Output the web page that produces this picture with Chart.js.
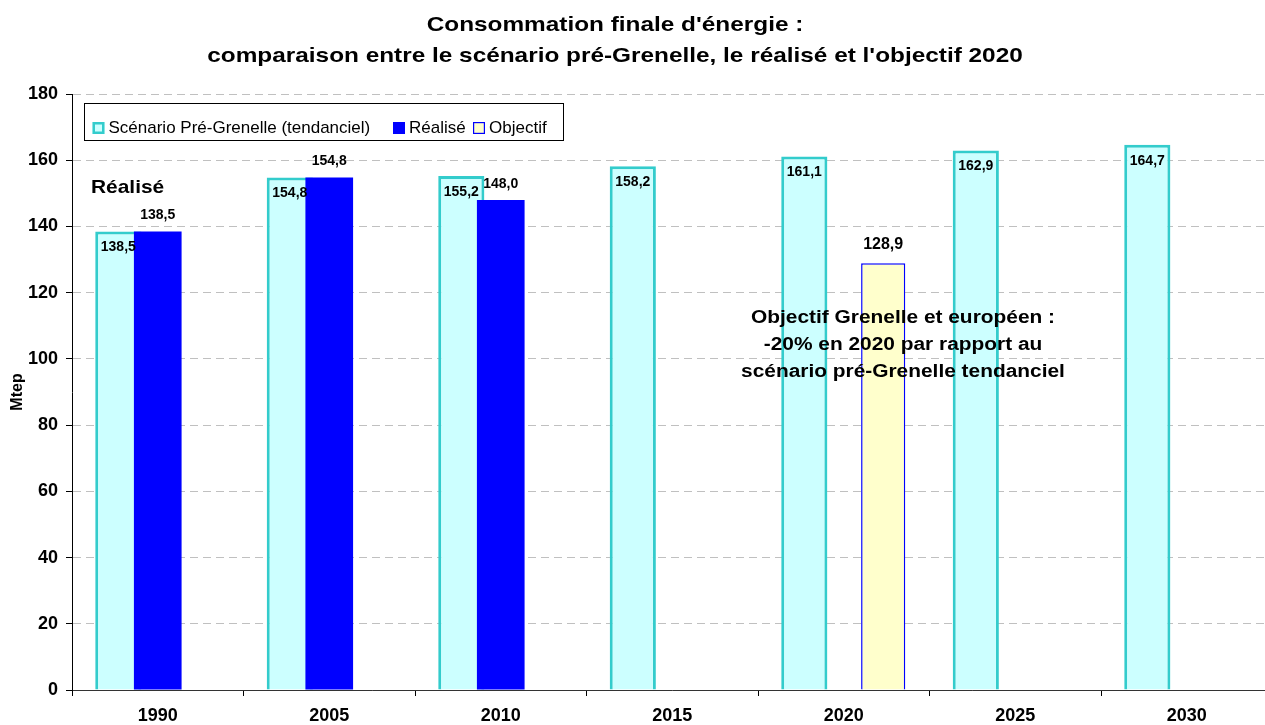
<!DOCTYPE html>
<html>
<head>
<meta charset="utf-8">
<script src="https://cdn.jsdelivr.net/npm/chart.js@4.4.1/dist/chart.umd.min.js"></script>
<style>
  html, body { margin: 0; padding: 0; background: #fff; overflow: hidden; }
  canvas { display: block; }
</style>
</head>
<body>
<canvas id="chart" width="1280" height="725"></canvas>
<script>
// data
const years = ['1990', '2005', '2010', '2015', '2020', '2025', '2030'];
const scenario = [138.5, 154.8, 155.2, 158.2, 161.1, 162.9, 164.7];
const realise = [138.5, 154.8, 148.0, null, null, null, null];
const objectif = [null, null, null, null, 128.9, null, null];
const yTicks = [0, 20, 40, 60, 80, 100, 120, 140, 160, 180];

const titleLines = ["Consommation finale d'énergie :",
  "comparaison entre le scénario pré-Grenelle, le réalisé et l'objectif 2020"];
const noteLines = ['Objectif Grenelle et européen :',
  '-20% en 2020 par rapport au',
  'scénario pré-Grenelle tendanciel'];

const FONT = "'Liberation Sans', Arial, sans-serif";

function stretchText(ctx, text, x, y, size, sx, align) {
  ctx.save();
  ctx.font = 'bold ' + size + 'px ' + FONT;
  ctx.fillStyle = '#000';
  ctx.textAlign = align;
  ctx.textBaseline = 'alphabetic';
  ctx.translate(x, y);
  ctx.scale(sx, 1);
  ctx.fillText(text, 0, 0);
  ctx.restore();
}

// value labels: inside top for the scenario, above for the others
const labelStyle = [
  { dy: 16, size: 14 },
  { dy: -16, size: 14 },
  { dy: -19, size: 16 }
];

const textPlugin = {
  id: 'texts',
  afterDatasetsDraw(chart) {
    const ctx = chart.ctx;
    chart.data.datasets.forEach((ds, i) => {
      const meta = chart.getDatasetMeta(i);
      const st = labelStyle[i];
      meta.data.forEach((bar, j) => {
        const v = ds.data[j];
        if (v === null || v === undefined) return;
        ctx.save();
        ctx.font = 'bold ' + st.size + 'px ' + FONT;
        ctx.fillStyle = '#000';
        ctx.textAlign = 'center';
        ctx.textBaseline = 'middle';
        ctx.fillText(v.toFixed(1).replace('.', ','), bar.x, bar.y + st.dy);
        ctx.restore();
      });
    });
  },
  afterDraw(chart) {
    const ctx = chart.ctx;
    // title
    stretchText(ctx, titleLines[0], 615, 31, 21, 1.16, 'center');
    stretchText(ctx, titleLines[1], 615, 62, 21, 1.16, 'center');
    // annotations
    stretchText(ctx, 'Réalisé', 91, 193, 19, 1.1, 'left');
    noteLines.forEach((t, k) => stretchText(ctx, t, 903, 323 + k * 27, 18, 1.16, 'center'));

    // legend box
    ctx.save();
    ctx.fillStyle = '#fff';
    ctx.fillRect(84.5, 103.5, 479, 37);
    ctx.strokeStyle = '#000';
    ctx.lineWidth = 1;
    ctx.strokeRect(84.5, 103.5, 479, 37);
    const itemX = [92.5, 393, 473];
    ctx.font = '17px ' + FONT;
    ctx.textBaseline = 'middle';
    chart.data.datasets.forEach((ds, i) => {
      const x = itemX[i];
      ctx.fillStyle = ds.backgroundColor;
      ctx.fillRect(x, 122, 12, 12);
      ctx.strokeStyle = ds.borderColor || ds.backgroundColor;
      ctx.lineWidth = i === 0 ? 2.5 : 1.2;
      ctx.strokeRect(x + ctx.lineWidth / 2, 122 + ctx.lineWidth / 2, 12 - ctx.lineWidth, 12 - ctx.lineWidth);
      ctx.fillStyle = '#000';
      ctx.fillText(ds.label, x + 16, 128.5);
    });
    ctx.restore();
  }
};

new Chart(document.getElementById('chart'), {
  type: 'bar',
  data: {
    labels: years,
    datasets: [
      {
        label: 'Scénario Pré-Grenelle (tendanciel)',
        data: scenario,
        backgroundColor: '#CCFFFF',
        borderColor: '#33CCCC',
        borderWidth: 3,
        categoryPercentage: 0.92,
        barPercentage: 0.585
      },
      {
        label: 'Réalisé',
        data: realise,
        backgroundColor: '#0000FF',
        borderColor: '#0000FF',
        borderWidth: 0,
        grouped: false,
        order: -1,
        categoryPercentage: 1,
        barPercentage: 0.278
      },
      {
        label: 'Objectif',
        data: objectif,
        backgroundColor: '#FFFFCC',
        borderColor: '#0000FF',
        borderWidth: 1.5,
        categoryPercentage: 0.92,
        barPercentage: 0.56
      }
    ]
  },
  options: {
    responsive: false,
    animation: false,
    devicePixelRatio: 1,
    layout: { padding: { top: 94, right: 7.5, left: 0, bottom: 0 } },
    plugins: {
      legend: { display: false },
      title: { display: false },
      tooltip: { enabled: false }
    },
    scales: {
      x: {
        afterFit: (s) => { s.height = 35; },
        grid: {
          offset: true,
          drawOnChartArea: false,
          drawTicks: true,
          tickLength: 6,
          tickColor: '#000'
        },
        border: { color: '#333', width: 1 },
        ticks: {
          color: '#000',
          padding: 9,
          font: { family: FONT, size: 18, weight: 'bold' }
        }
      },
      y: {
        min: 0,
        max: 180,
        afterFit: (s) => { s.width = 72; },
        afterBuildTicks: (s) => { s.ticks = yTicks.map(v => ({ value: v })); },
        grid: {
          color: '#c0c0c0',
          tickColor: '#000',
          tickLength: 6
        },
        border: { color: '#000', width: 1, dash: [8, 5] },
        ticks: {
          color: '#000',
          padding: 8,
          font: { family: FONT, size: 18, weight: 'bold' }
        },
        title: {
          display: true,
          text: 'Mtep',
          color: '#000',
          padding: { top: 8, bottom: 0 },
          font: { family: FONT, size: 16, weight: 'bold' }
        }
      }
    }
  },
  plugins: [textPlugin]
});
</script>
</body>
</html>
